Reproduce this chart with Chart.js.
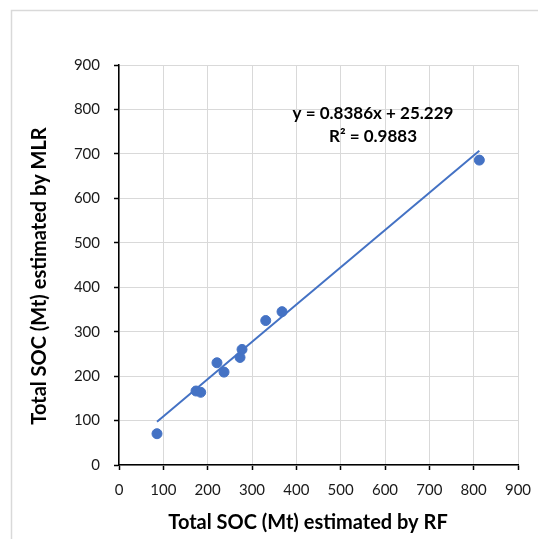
<!DOCTYPE html>
<html>
<head>
<meta charset="utf-8">
<script src="https://cdn.jsdelivr.net/npm/chart.js@4"></script>
<style>
  html, body { margin: 0; padding: 0; background: #fff; }
  #wrap { position: relative; width: 538px; height: 539px; overflow: hidden; }
</style>
</head>
<body>
<div id="wrap"><canvas id="c" width="538" height="539"></canvas></div>
<script>
// ---- data ----
const rfValues  = [85.7, 173.7, 184.3, 221, 236.9, 273, 277.5, 331, 367.7, 812.8];
const mlrValues = [70.4, 166.5, 163.6, 230, 209, 242, 260, 325, 345, 686];
const trendSlope = 0.8386;
const trendIntercept = 25.229;
const equationLines = ["y = 0.8386x + 25.229", "R\u00b2 = 0.9883"];
const xTitle = "Total SOC (Mt) estimated by RF";
const yTitle = "Total SOC (Mt) estimated by MLR";
const axisMin = 0, axisMax = 900, axisStep = 100;

const points = rfValues.map((x, i) => ({ x: x, y: mlrValues[i] }));
const xMin = Math.min(...rfValues), xMax = Math.max(...rfValues);
const trend = [
  { x: xMin, y: trendSlope * xMin + trendIntercept },
  { x: xMax, y: trendSlope * xMax + trendIntercept }
];

const FONT = 'Lato, "Open Sans", sans-serif';
const BLUE = '#4472C4';

const decorPlugin = {
  id: 'decor',
  beforeDraw(chart) {
    const ctx = chart.ctx;
    ctx.save();
    ctx.strokeStyle = '#d9d9d9';
    ctx.lineWidth = 1.5;
    ctx.strokeRect(11.5, 10.5, 600, 600);
    ctx.restore();
  },
  afterDraw(chart) {
    const ctx = chart.ctx;
    ctx.save();
    ctx.fillStyle = '#000';
    ctx.textAlign = 'center';
    ctx.textBaseline = 'middle';
    // equation
    ctx.font = 'bold 17px ' + FONT;
    ctx.fillText(equationLines[0], 373, 114);
    ctx.fillText(equationLines[1], 373, 137);
    // axis titles
    ctx.font = 'bold 20px ' + FONT;
    ctx.fillText(xTitle, 308, 523);
    ctx.translate(40, 276);
    ctx.rotate(-Math.PI / 2);
    ctx.fillText(yTitle, 0, 0);
    ctx.restore();
  }
};

const gridCommon = {
  color: '#d9d9d9',
  lineWidth: 1,
  tickColor: '#000',
  tickLength: 5,
  tickWidth: 1.5
};

new Chart(document.getElementById('c'), {
  type: 'scatter',
  data: {
    datasets: [
      {
        label: 'Trend',
        type: 'line',
        data: trend,
        borderColor: BLUE,
        borderWidth: 2,
        pointRadius: 0,
        fill: false,
        order: 2
      },
      {
        label: 'Total SOC',
        data: points,
        backgroundColor: BLUE,
        borderColor: BLUE,
        pointRadius: 5,
        pointHoverRadius: 5,
        order: 1
      }
    ]
  },
  options: {
    responsive: false,
    animation: false,
    events: [],
    layout: { padding: { left: 0, top: 65, right: 20, bottom: 0 } },
    plugins: {
      legend: { display: false },
      tooltip: { enabled: false },
      title: { display: false }
    },
    scales: {
      x: {
        type: 'linear',
        min: axisMin, max: axisMax,
        ticks: { stepSize: axisStep, padding: 11, color: '#1a1a1a', font: { family: FONT, size: 15 } },
        grid: gridCommon,
        border: { color: '#000', width: 1.5 },
        afterFit(scale) { scale.height = 74; scale.paddingLeft = 0; scale.paddingRight = 0; }
      },
      y: {
        type: 'linear',
        min: axisMin, max: axisMax,
        ticks: { stepSize: axisStep, padding: 14, color: '#1a1a1a', font: { family: FONT, size: 15 } },
        grid: gridCommon,
        border: { color: '#000', width: 1.5 },
        afterFit(scale) { scale.width = 119; }
      }
    }
  },
  plugins: [decorPlugin]
});
</script>
</body>
</html>
